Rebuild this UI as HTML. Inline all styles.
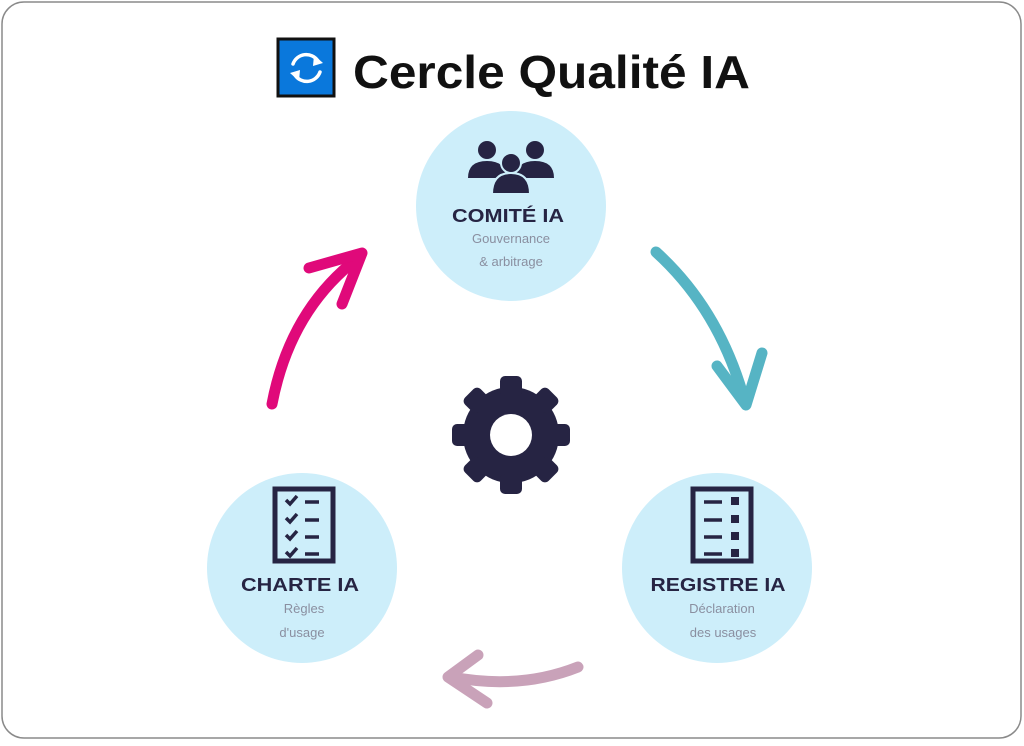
<!DOCTYPE html>
<html><head><meta charset="utf-8"><style>
html,body{margin:0;padding:0;background:#fff;}
body{width:1024px;height:741px;overflow:hidden;position:relative;font-family:"Liberation Sans",sans-serif;}
</style></head><body>
<svg width="1024" height="741" viewBox="0 0 1024 741" xmlns="http://www.w3.org/2000/svg">
<rect x="2" y="2" width="1019" height="736" rx="22" fill="#fff" stroke="#8a8a8a" stroke-width="1.5"/>
<rect x="278" y="39" width="56" height="57" fill="#0a78dc" stroke="#111" stroke-width="3"/>
<g fill="none" stroke="#fff" stroke-width="3.5" stroke-linecap="round">
<path d="M293 64 A14 14 0 0 1 318 61"/>
<path d="M320 72 A14 14 0 0 1 295 75"/>
</g>
<polygon points="314,55 323,63 313,66" fill="#fff"/>
<polygon points="299,81 290,73 300,70" fill="#fff"/>
<text x="353" y="88" font-size="46" font-weight="bold" fill="#111" textLength="397" lengthAdjust="spacingAndGlyphs" font-family="Liberation Sans, sans-serif">Cercle Qualité IA</text>
<circle cx="511" cy="206" r="95" fill="#cdeefa"/>
<circle cx="302" cy="568" r="95" fill="#cdeefa"/>
<circle cx="717" cy="568" r="95" fill="#cdeefa"/>
<g fill="#262443">
<circle cx="487" cy="150" r="9"/><circle cx="535" cy="150" r="9"/>
<path d="M468 178 Q468 161 487 161 Q506 161 506 178Z"/>
<path d="M516 178 Q516 161 535 161 Q554 161 554 178Z"/>
<circle cx="511" cy="163" r="10" stroke="#cdeefa" stroke-width="2"/>
<path d="M492 194 Q492 173 511 173 Q530 173 530 194Z" stroke="#cdeefa" stroke-width="2"/>
</g>
<g font-family="Liberation Sans, sans-serif" text-anchor="middle">
<text x="508" y="222" font-size="18" fill="#262443" font-weight="bold" textLength="112" lengthAdjust="spacingAndGlyphs">COMITÉ IA</text>
<text x="511" y="243" font-size="13" fill="#8a8fa0">Gouvernance</text>
<text x="511" y="266" font-size="13" fill="#8a8fa0">&amp; arbitrage</text>
<text x="300" y="591" font-size="18" fill="#262443" font-weight="bold" textLength="118" lengthAdjust="spacingAndGlyphs">CHARTE IA</text>
<text x="304" y="613" font-size="13" fill="#8a8fa0">Règles</text>
<text x="302" y="637" font-size="13" fill="#8a8fa0">d'usage</text>
<text x="718" y="591" font-size="18" fill="#262443" font-weight="bold" textLength="135" lengthAdjust="spacingAndGlyphs">REGISTRE IA</text>
<text x="722" y="613" font-size="13" fill="#8a8fa0">Déclaration</text>
<text x="723" y="637" font-size="13" fill="#8a8fa0">des usages</text>
</g>
<rect x="275" y="489" width="58" height="72" fill="none" stroke="#262443" stroke-width="5"/>
<g stroke="#262443" stroke-width="3.5" fill="none">
<path d="M286 500 l4 4 l7 -8 M286 518 l4 4 l7 -8 M286 535 l4 4 l7 -8 M286 552 l4 4 l7 -8"/>
<path d="M305 502 h14 M305 520 h14 M305 537 h14 M305 554 h14"/>
</g>
<rect x="693" y="489" width="58" height="72" fill="none" stroke="#262443" stroke-width="5"/>
<g stroke="#262443" stroke-width="3.5">
<path d="M704 502 h18 M704 520 h18 M704 537 h18 M704 554 h18"/>
</g>
<g fill="#262443"><rect x="731" y="497" width="8" height="8"/><rect x="731" y="515" width="8" height="8"/><rect x="731" y="532" width="8" height="8"/><rect x="731" y="549" width="8" height="8"/></g>
<g transform="translate(511,435)" fill="#262443">
<circle r="48"/>
<g id="t"><rect x="-11" y="-59" width="22" height="20" rx="5"/></g>
<use href="#t" transform="rotate(45)"/><use href="#t" transform="rotate(90)"/><use href="#t" transform="rotate(135)"/>
<use href="#t" transform="rotate(180)"/><use href="#t" transform="rotate(225)"/><use href="#t" transform="rotate(270)"/><use href="#t" transform="rotate(315)"/>
<circle r="21" fill="#fff"/>
</g>
<g fill="none" stroke-width="11" stroke-linecap="round" stroke-linejoin="round">
<path d="M272 404 Q290 310 358 258" stroke="#e0097a"/>
<path d="M309 268 L362 253 L342 304" stroke="#e0097a"/>
<path d="M656 252 Q720 310 745 402" stroke="#56b4c4"/>
<path d="M717 366 L746 405 L762 353" stroke="#56b4c4"/>
<path d="M578 667 Q520 690 452 677" stroke="#c9a2b9"/>
<path d="M478 655 L448 677 L487 703" stroke="#c9a2b9"/>
</g>
</svg>
</body></html>
